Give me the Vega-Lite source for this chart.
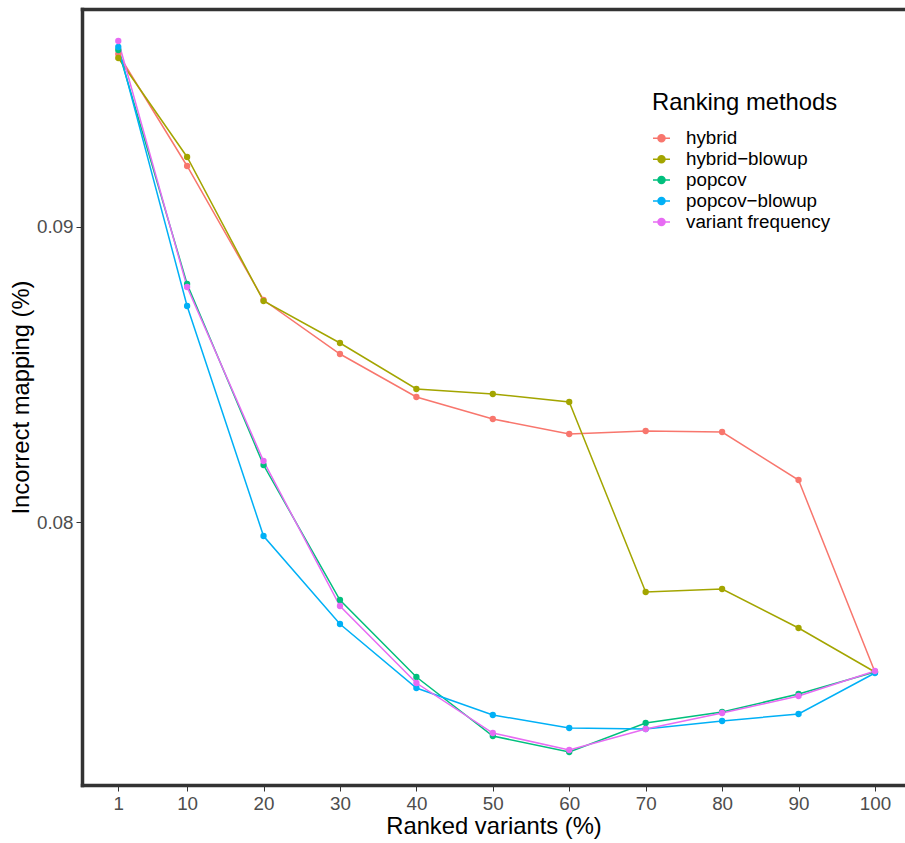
{
  "$schema": "https://vega.github.io/schema/vega-lite/v6.json",
  "width": 823,
  "height": 776,
  "autosize": {"type": "none"},
  "padding": {"left": 82, "top": 9, "right": 0, "bottom": 58},
  "background": "white",
  "config": {
    "view": {"stroke": null},
    "font": "Liberation Sans",
    "axis": {
      "grid": false,
      "domainColor": "#333333",
      "domainWidth": 3.5,
      "domainCap": "square",
      "tickColor": "#333333",
      "tickWidth": 1,
      "tickSize": 6,
      "labelColor": "#4d4d4d",
      "labelFontSize": 18.8,
      "labelPadding": 3,
      "titleFontSize": 23.8,
      "titleFontWeight": "normal",
      "titleColor": "black"
    }
  },
  "data": {
    "values": [
      {"ranked": 1, "incorrect": 0.095839, "method": "hybrid"},
      {"ranked": 10, "incorrect": 0.092050, "method": "hybrid"},
      {"ranked": 20, "incorrect": 0.087517, "method": "hybrid"},
      {"ranked": 30, "incorrect": 0.085690, "method": "hybrid"},
      {"ranked": 40, "incorrect": 0.084235, "method": "hybrid"},
      {"ranked": 50, "incorrect": 0.083491, "method": "hybrid"},
      {"ranked": 60, "incorrect": 0.082984, "method": "hybrid"},
      {"ranked": 70, "incorrect": 0.083085, "method": "hybrid"},
      {"ranked": 80, "incorrect": 0.083051, "method": "hybrid"},
      {"ranked": 90, "incorrect": 0.081428, "method": "hybrid"},
      {"ranked": 100, "incorrect": 0.074932, "method": "hybrid"},
      {"ranked": 1, "incorrect": 0.095704, "method": "hybrid−blowup"},
      {"ranked": 10, "incorrect": 0.092355, "method": "hybrid−blowup"},
      {"ranked": 20, "incorrect": 0.087483, "method": "hybrid−blowup"},
      {"ranked": 30, "incorrect": 0.086062, "method": "hybrid−blowup"},
      {"ranked": 40, "incorrect": 0.084506, "method": "hybrid−blowup"},
      {"ranked": 50, "incorrect": 0.084337, "method": "hybrid−blowup"},
      {"ranked": 60, "incorrect": 0.084066, "method": "hybrid−blowup"},
      {"ranked": 70, "incorrect": 0.077639, "method": "hybrid−blowup"},
      {"ranked": 80, "incorrect": 0.077740, "method": "hybrid−blowup"},
      {"ranked": 90, "incorrect": 0.076421, "method": "hybrid−blowup"},
      {"ranked": 100, "incorrect": 0.074932, "method": "hybrid−blowup"},
      {"ranked": 1, "incorrect": 0.095974, "method": "popcov"},
      {"ranked": 10, "incorrect": 0.088058, "method": "popcov"},
      {"ranked": 20, "incorrect": 0.081935, "method": "popcov"},
      {"ranked": 30, "incorrect": 0.077368, "method": "popcov"},
      {"ranked": 40, "incorrect": 0.074763, "method": "popcov"},
      {"ranked": 50, "incorrect": 0.072767, "method": "popcov"},
      {"ranked": 60, "incorrect": 0.072226, "method": "popcov"},
      {"ranked": 70, "incorrect": 0.073207, "method": "popcov"},
      {"ranked": 80, "incorrect": 0.073579, "method": "popcov"},
      {"ranked": 90, "incorrect": 0.074188, "method": "popcov"},
      {"ranked": 100, "incorrect": 0.074932, "method": "popcov"},
      {"ranked": 1, "incorrect": 0.096076, "method": "popcov−blowup"},
      {"ranked": 10, "incorrect": 0.087314, "method": "popcov−blowup"},
      {"ranked": 20, "incorrect": 0.079533, "method": "popcov−blowup"},
      {"ranked": 30, "incorrect": 0.076556, "method": "popcov−blowup"},
      {"ranked": 40, "incorrect": 0.074391, "method": "popcov−blowup"},
      {"ranked": 50, "incorrect": 0.073478, "method": "popcov−blowup"},
      {"ranked": 60, "incorrect": 0.073038, "method": "popcov−blowup"},
      {"ranked": 70, "incorrect": 0.073004, "method": "popcov−blowup"},
      {"ranked": 80, "incorrect": 0.073275, "method": "popcov−blowup"},
      {"ranked": 90, "incorrect": 0.073511, "method": "popcov−blowup"},
      {"ranked": 100, "incorrect": 0.074899, "method": "popcov−blowup"},
      {"ranked": 1, "incorrect": 0.096279, "method": "variant frequency"},
      {"ranked": 10, "incorrect": 0.087957, "method": "variant frequency"},
      {"ranked": 20, "incorrect": 0.082070, "method": "variant frequency"},
      {"ranked": 30, "incorrect": 0.077165, "method": "variant frequency"},
      {"ranked": 40, "incorrect": 0.074560, "method": "variant frequency"},
      {"ranked": 50, "incorrect": 0.072869, "method": "variant frequency"},
      {"ranked": 60, "incorrect": 0.072294, "method": "variant frequency"},
      {"ranked": 70, "incorrect": 0.073004, "method": "variant frequency"},
      {"ranked": 80, "incorrect": 0.073545, "method": "variant frequency"},
      {"ranked": 90, "incorrect": 0.074120, "method": "variant frequency"},
      {"ranked": 100, "incorrect": 0.074966, "method": "variant frequency"}
    ]
  },
  "encoding": {
    "y": {
      "field": "incorrect",
      "type": "quantitative",
      "scale": {"domain": [0.07111, 0.097361], "nice": false, "zero": false},
      "axis": {"values": [0.08, 0.09], "format": ".2f", "title": "Incorrect mapping (%)", "titlePadding": 3}
    },
    "color": {
      "field": "method",
      "type": "nominal",
      "scale": {
        "domain": ["hybrid", "hybrid−blowup", "popcov", "popcov−blowup", "variant frequency"],
        "range": ["#F8766D", "#A3A500", "#00BF7D", "#00B0F6", "#E76BF3"]
      },
      "legend": {
        "orient": "none",
        "legendX": 570,
        "legendY": 82,
        "padding": 0,
        "title": "Ranking methods",
        "titleFontSize": 23.8,
        "titleFontWeight": "normal",
        "titleColor": "black",
        "titlePadding": 14,
        "titleLimit": 500,
        "labelLimit": 400,
        "labelFontSize": 18.8,
        "labelColor": "black",
        "labelOffset": 15,
        "rowPadding": 0.9,
        "symbolType": "M-1,0L1,0M-0.41,0A0.41,0.41,0,1,1,0.41,0A0.41,0.41,0,1,1,-0.41,0Z",
        "symbolSize": 289,
        "symbolStrokeWidth": 1.5,
        "symbolOpacity": 1,
        "encode": {
          "symbols": {
            "update": {
              "stroke": {"scale": "color", "field": "value"},
              "fill": {"scale": "color", "field": "value"}
            }
          }
        }
      }
    }
  },
  "layer": [
    {
      "mark": {"type": "line", "strokeWidth": 1.5},
      "encoding": {
        "x": {
          "field": "ranked",
          "type": "quantitative",
          "scale": {"domain": [-3.75, 103.93], "nice": false, "zero": false},
          "axis": {"values": [1, 10, 20, 30, 40, 50, 60, 70, 80, 90, 100], "title": "Ranked variants (%)", "titlePadding": 2}
        }
      }
    },
    {
      "mark": {"type": "point", "filled": true, "size": 40, "opacity": 1},
      "encoding": {
        "x": {
          "field": "ranked",
          "type": "quantitative",
          "scale": {"domain": [-3.75, 103.93], "nice": false, "zero": false},
          "axis": {"orient": "top", "labels": false, "ticks": false, "title": null}
        }
      }
    }
  ],
  "resolve": {"axis": {"x": "independent"}}
}
